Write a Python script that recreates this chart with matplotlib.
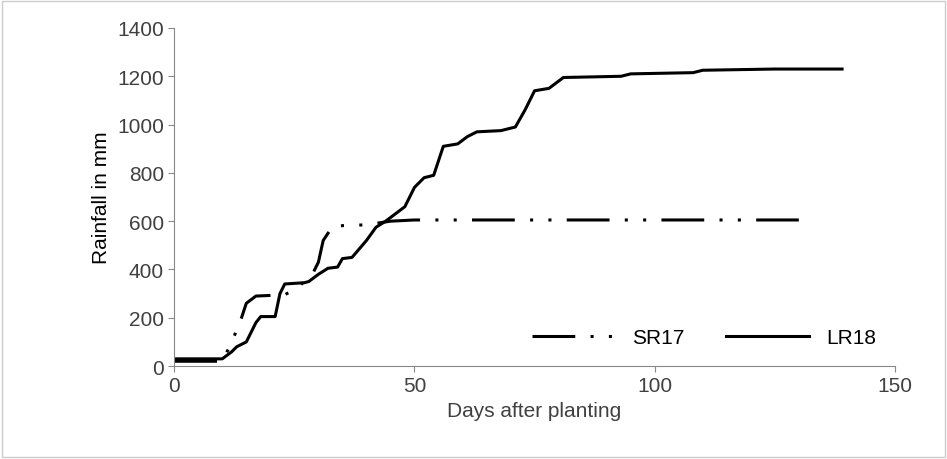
import matplotlib
matplotlib.use("Agg")
import matplotlib.pyplot as plt
plt.rcParams['font.family'] = ['Liberation Sans', 'DejaVu Sans']

sr17_x = [0, 10, 12, 14, 15, 17, 23, 26, 29, 30, 31, 33, 40, 45, 50, 130]
sr17_y = [20, 20, 100, 200, 260, 290, 295, 330, 390, 430, 520, 580, 585, 600, 605, 605]
lr18_x = [0, 10, 12, 13, 15, 16, 17, 18, 21, 22, 23, 27, 28, 30, 32, 34, 35, 37, 40, 42, 44, 46, 48, 49, 50, 52, 54, 56, 59, 61, 63, 68, 71, 73, 75, 78, 80, 81, 93, 95, 108, 110, 125, 139]
lr18_y = [30, 30, 60, 80, 100, 140, 180, 205, 205, 300, 340, 345, 350, 380, 405, 410, 445, 450, 520, 575, 600, 630, 660, 700, 740, 780, 790, 910, 920, 950, 970, 975, 990, 1060, 1140, 1150, 1180, 1195, 1200, 1210, 1215, 1225, 1230, 1230]

fig = plt.figure(figsize=(9.47, 4.60), dpi=100)
ax = fig.add_axes([0.184, 0.202, 0.761, 0.735])
ax.plot(sr17_x, sr17_y, color='black', lw=2.2, dashes=[14, 5, 1, 5, 1, 5], label='SR17')
ax.plot(lr18_x, lr18_y, color='black', lw=2.2, label='LR18')
ax.set_xlim(0, 150)
ax.set_ylim(0, 1400)
ax.set_xticks([0, 50, 100, 150])
ax.set_yticks(range(0, 1401, 200))
for s in ['top', 'right']:
    ax.spines[s].set_visible(False)
for s in ['left', 'bottom']:
    ax.spines[s].set_color('#888888')
ax.tick_params(axis='both', colors='#888888', labelcolor='#404040', labelsize=15, direction='out', length=4)
ax.set_xlabel('Days after planting', fontsize=15, color='#404040')
ax.set_ylabel('Rainfall in mm', fontsize=15, color='#000000')
ax.legend(loc='lower right', ncol=2, frameon=False, fontsize=15, handlelength=4, bbox_to_anchor=(1.0, 0.0))
fig.add_artist(plt.Rectangle((0.002, 0.004), 0.996, 0.992, fill=False, edgecolor='#cccccc', transform=fig.transFigure))
fig.savefig('out.png', dpi=100)
